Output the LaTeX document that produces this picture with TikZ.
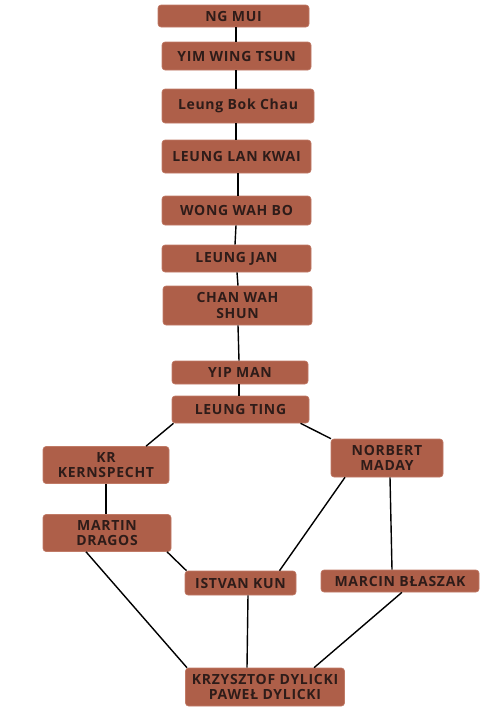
\documentclass[tikz,border=0pt]{standalone}
\usepackage{fontspec}
\setmainfont{Open Sans}
\definecolor{boxc}{HTML}{AE5F49}
\definecolor{boxe}{HTML}{C07A66}
\definecolor{txtc}{HTML}{2E1C19}
\begin{document}
\begin{tikzpicture}[x=1pt,y=-1pt,
  person/.style={rectangle, rounded corners=3pt, fill=boxc, draw=boxe, line width=0.6pt,
    inner sep=0pt, align=center, text=txtc,
    font=\fontsize{14}{15.5}\selectfont\bfseries\addfontfeatures{LetterSpace=5}},
  link/.style={line width=1.4pt, black}]
\useasboundingbox (0,0) rectangle (503,710);
\node[person, minimum width=151, minimum height=22] (ng) at (233.5,16) {NG MUI};
\node[person, minimum width=149, minimum height=28] (yim) at (236.5,56) {YIM WING TSUN};
\node[person, minimum width=152, minimum height=34] (lbc) at (238,106) {Leung Bok Chau};
\node[person, minimum width=149, minimum height=33] (llk) at (236.5,156.5) {LEUNG LAN KWAI};
\node[person, minimum width=149, minimum height=29] (wwb) at (236.5,210.5) {WONG WAH BO};
\node[person, minimum width=149, minimum height=27] (lj) at (236.5,258.5) {LEUNG JAN};
\node[person, minimum width=149, minimum height=39] (cws) at (237.5,305.5) {CHAN WAH\\SHUN};
\node[person, minimum width=136, minimum height=23] (ym) at (240,372.5) {YIP MAN};
\node[person, minimum width=137, minimum height=27] (lt) at (240.5,409.5) {LEUNG TING};
\node[person, minimum width=126, minimum height=37] (kr) at (106,465) {KR\\KERNSPECHT};
\node[person, minimum width=128, minimum height=37] (md) at (107,533) {MARTIN\\DRAGOS};
\node[person, minimum width=112, minimum height=38] (nm) at (387,458) {NORBERT\\MADAY};
\node[person, minimum width=111, minimum height=24] (ik) at (240.5,583) {ISTVAN KUN};
\node[person, minimum width=158, minimum height=22] (mb) at (400,581) {MARCIN BŁASZAK};
\node[person, minimum width=159, minimum height=38] (kd) at (265,687) {KRZYSZTOF DYLICKI\\PAWEŁ DYLICKI};
\draw[link] ([xshift=2.5]ng.south) -- ([xshift=-0.5]yim.north);
\draw[link] ([xshift=-0.5]yim.south) -- ([xshift=-2]lbc.north);
\draw[link] ([xshift=-2]lbc.south) -- ([xshift=-0.5]llk.north);
\draw[link] ([xshift=1.5]llk.south) -- ([xshift=1.5]wwb.north);
\draw[link] ([xshift=-0.5]wwb.south) -- ([xshift=-1.5]lj.north);
\draw[link] ([xshift=0.5]lj.south) -- ([xshift=0.5]cws.north);
\draw[link] ([xshift=0.5]cws.south) -- ([xshift=-1]ym.north);
\draw[link] ([xshift=-1]ym.south) -- ([xshift=-1.5]lt.north);
\draw[link] ([xshift=-67]lt.south) -- ([xshift=40]kr.north);
\draw[link] ([xshift=60]lt.south) -- ([xshift=-56]nm.north);
\draw[link] (kr.south) -- ([xshift=-1]md.north);
\draw[link] ([xshift=60]md.south) -- ([xshift=-54]ik.north);
\draw[link] ([xshift=-21]md.south) -- ([xshift=-78]kd.north);
\draw[link] ([xshift=-42]nm.south) -- ([xshift=39]ik.north);
\draw[link] ([xshift=3]nm.south) -- ([xshift=-8]mb.north);
\draw[link] ([xshift=7.5]ik.south) -- ([xshift=-18]kd.north);
\draw[link] ([xshift=2]mb.south) -- ([xshift=49]kd.north);
\end{tikzpicture}
\end{document}
